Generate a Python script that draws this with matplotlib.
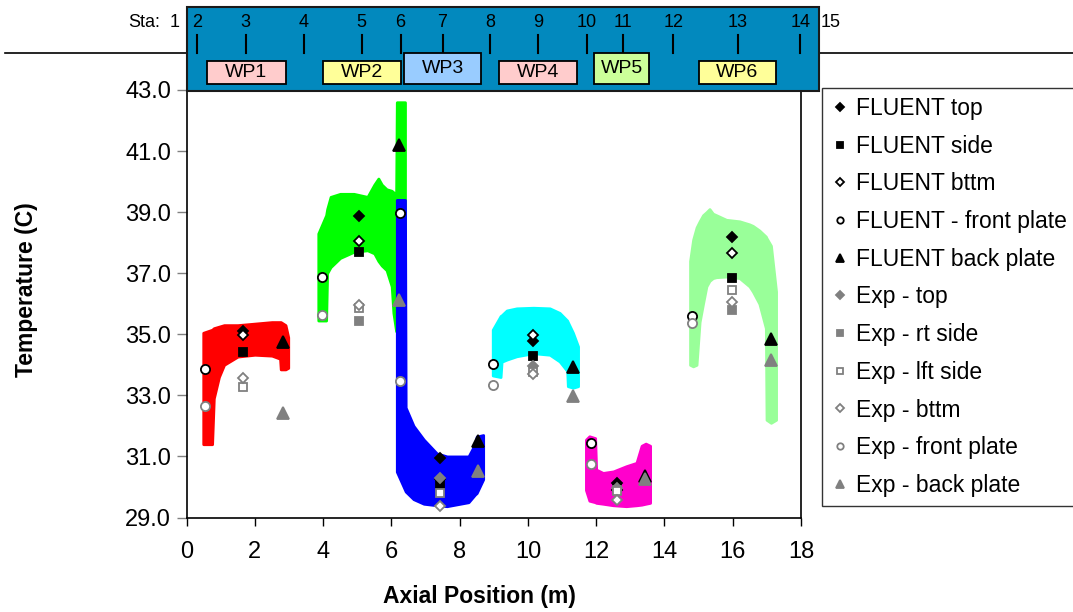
import numpy as np
import matplotlib
matplotlib.use("Agg")
import matplotlib.pyplot as plt
from matplotlib.patches import Rectangle
from matplotlib.lines import Line2D
from matplotlib import transforms

plt.rcParams["font.family"] = ["Liberation Sans", "DejaVu Sans"]

nan = np.nan

# FLUENT temperature envelopes per work package: axial position, lower / upper temp (C)
wp1_x  = [0.49, 0.75, 0.80, 0.95, 1.10, 1.50, 2.00, 2.50, 2.74, 2.76, 2.90, 2.98]
wp1_hi = [35.05, 35.15, 35.2, 35.25, 35.3, 35.3, 35.35, 35.4, 35.4, 35.4, 35.3, 34.9]
wp1_lo = [31.4, 31.4, 32.9, 33.6, 34.0, 34.27, 34.33, 34.3, 34.2, 33.85, 33.85, 33.9]

wp2_x  = [3.86, 4.09, 4.12, 4.22, 4.50, 4.90, 5.30, 5.50, 5.62, 5.72, 5.86, 6.01, 6.06, 6.14, 6.16, 6.40]
wp2_hi = [38.3, 38.9, 39.1, 39.5, 39.6, 39.6, 39.5, 39.9, 40.1, 39.9, 39.75, 39.7, 39.65, 39.6, 42.6, 42.6]
wp2_lo = [35.45, 35.45, 37.0, 37.2, 37.5, 37.7, 37.75, 37.65, 37.4, 37.25, 37.1, 36.57, 35.7, 35.1, 35.1, 35.9]

wp3_x  = [6.16, 6.40, 6.42, 6.65, 6.95, 7.33, 7.63, 8.26, 8.45, 8.50, 8.69]
wp3_hi = [39.4, 39.4, 32.6, 32.0, 31.55, 31.1, 31.0, 31.0, 31.4, 31.65, 31.7]
wp3_lo = [30.5, 29.9, 29.85, 29.6, 29.45, 29.4, 29.37, 29.5, 29.75, 29.8, 30.25]

wp4_x  = [8.97, 9.20, 9.23, 9.38, 9.67, 10.16, 10.64, 10.93, 11.15, 11.17, 11.32, 11.47]
wp4_hi = [35.15, 35.6, 35.62, 35.78, 35.85, 35.87, 35.85, 35.7, 35.45, 35.4, 35.05, 34.6]
wp4_lo = [33.65, 33.6, 34.1, 34.17, 34.28, 34.38, 34.33, 34.11, 33.8, 33.3, 33.25, 33.3]

wp5_x  = [11.70, 11.80, 11.97, 12.00, 12.20, 12.50, 12.88, 13.18, 13.33, 13.45, 13.58]
wp5_hi = [31.55, 31.66, 31.6, 30.57, 30.46, 30.51, 30.68, 30.79, 31.35, 31.42, 31.35]
wp5_lo = [29.9, 29.55, 29.5, 29.48, 29.45, 29.4, 29.37, 29.4, 29.42, 29.45, 29.48]

wp6_x  = [14.75, 14.84, 14.94, 15.03, 15.13, 15.23, 15.32, 15.42, 15.52, 15.81, 16.20,
          16.49, 16.59, 16.78, 16.97, 16.99, 17.12, 17.27]
wp6_hi = [37.4, 38.1, 38.5, 38.7, 38.9, 39.0, 39.1, 38.95, 38.9, 38.75, 38.7,
          38.6, 38.55, 38.4, 38.2, 38.15, 37.9, 36.4]
wp6_lo = [34.0, 33.95, 34.0, 35.4, 36.0, 36.57, 36.75, 36.84, 36.87, 36.89, 36.84,
          36.57, 36.4, 36.0, 35.2, 32.2, 32.1, 32.2]

region_colors = ["#FF0000", "#00FF00", "#0000FF", "#00FFFF", "#FF00CC", "#99FF99"]

# probe positions (one per work package)
mid_x   = [1.65, 5.06, 7.43, 10.16, 12.60, 15.99]
front_x = [0.54, 3.96, 6.25, 8.99, 11.84, 14.82]
back_x  = [2.82, 6.23, 8.55, 11.33, 13.43, 17.11]

fluent_top   = [35.12, 38.89, 30.95, 34.79, 30.13, 38.18]
fluent_side  = [34.42, 37.68, 30.08, 34.30, 29.92, 36.84]
fluent_bttm  = [34.99, 38.04, 30.25, 34.98, 29.90, 37.66]
fluent_front = [33.86, 36.87, 38.97, 34.04, 31.44, 35.60]
fluent_back  = [34.75, 41.20, 31.50, 33.93, 30.35, 34.84]
exp_top   = [nan, nan, 30.30, 33.97, 29.97, nan]
exp_rt    = [nan, 35.42, nan, nan, 29.90, 35.80]
exp_lft   = [33.27, 35.86, 29.81, 33.75, 29.86, 36.46]
exp_bttm  = [33.57, 35.97, 29.37, 33.70, 29.57, 36.06]
exp_front = [32.64, 35.64, 33.48, 33.33, 30.76, 35.37]
exp_back  = [32.42, 36.11, 30.51, 32.97, 30.25, 34.15]

# station / work-package banner
stations  = ["1", "2", "3", "4", "5", "6", "7", "8", "9", "10", "11", "12", "13", "14", "15"]
station_x = [-0.35, 0.30, 1.73, 3.44, 5.13, 6.27, 7.50, 8.90, 10.29, 11.72, 12.78, 14.26, 16.14, 17.98, 18.86]
wp_names  = ["WP1", "WP2", "WP3", "WP4", "WP5", "WP6"]
wp_start  = [0.59, 4.00, 6.36, 9.15, 11.95, 15.00]
wp_end    = [2.90, 6.28, 8.64, 11.43, 13.54, 17.28]
wp_colors = ["#FFCCCC", "#FFFF99", "#99CCFF", "#FFCCCC", "#CCFF99", "#FFFF99"]

W, H = 1073, 612
fig = plt.figure(figsize=(W / 100, H / 100), dpi=100)
ax = fig.add_axes([186.5 / W, 1 - 517.5 / H, 614.5 / W, 427.5 / H])

envelopes = [(wp1_x, wp1_lo, wp1_hi), (wp2_x, wp2_lo, wp2_hi), (wp3_x, wp3_lo, wp3_hi),
             (wp4_x, wp4_lo, wp4_hi), (wp5_x, wp5_lo, wp5_hi), (wp6_x, wp6_lo, wp6_hi)]
for (x, lo, hi), c in zip(envelopes, region_colors):
    ax.fill_between(x, lo, hi, facecolor=c, edgecolor=c, lw=2, joinstyle="round", zorder=1)

gray = "#808080"
series = [
    ("FLUENT top", mid_x, fluent_top, "D", 5.2, "black", "black"),
    ("FLUENT side", mid_x, fluent_side, "s", 5.8, "black", "black"),
    ("FLUENT bttm", mid_x, fluent_bttm, "D", 5.2, "white", "black"),
    ("FLUENT - front plate", front_x, fluent_front, "o", 6.6, "white", "black"),
    ("FLUENT back plate", back_x, fluent_back, "^", 8.0, "black", "black"),
    ("Exp - top", mid_x, exp_top, "D", 5.2, gray, gray),
    ("Exp - rt side", mid_x, exp_rt, "s", 5.8, gray, gray),
    ("Exp - lft side", mid_x, exp_lft, "s", 5.8, "white", gray),
    ("Exp - bttm", mid_x, exp_bttm, "D", 5.2, "white", gray),
    ("Exp - front plate", front_x, exp_front, "o", 6.6, "white", gray),
    ("Exp - back plate", back_x, exp_back, "^", 8.0, gray, gray),
]
handles = []
for label, x, y, m, ms, fc, ec in series:
    h, = ax.plot(x, y, ls="none", marker=m, ms=ms, mfc=fc, mec=ec, mew=1.3,
                 label=label, zorder=3, clip_on=False)
    handles.append(h)

ax.set_xlim(0, 18)
ax.set_ylim(29, 43)
ax.set_xticks(np.arange(0, 19, 2))
ax.set_yticks(np.arange(29, 44, 2))
ax.set_yticklabels([f"{v:.1f}" for v in np.arange(29, 44, 2)])
ax.tick_params(axis="x", direction="out", length=6, width=1, color="black", pad=11, labelsize=17)
ax.tick_params(axis="y", direction="out", length=7, width=1, color=gray, pad=4, labelsize=17)
for s in ax.spines.values():
    s.set_linewidth(1.2)
    s.set_color("black")

ax.set_xlabel("Axial Position (m)", fontsize=16.5, fontweight="bold")
ax.set_ylabel("Temperature (C)", fontsize=16.5, fontweight="bold")
ax.xaxis.set_label_coords(0.476, -0.158)
ax.yaxis.set_label_coords(-0.241, 0.533)

leg = ax.legend(handles=handles, loc="upper left", bbox_to_anchor=(822 / W, 1 - 88 / H),
                bbox_transform=fig.transFigure, frameon=True, fancybox=False, fontsize=16.5,
                markerscale=0.7, handlelength=0.8, handletextpad=0.3, borderpad=0.4,
                labelspacing=0.64, borderaxespad=0)
leg.get_frame().set_edgecolor("black")
leg.get_frame().set_linewidth(1.0)

# banner with stations and work packages (x in axial metres, y in figure fraction)
trans = transforms.blended_transform_factory(ax.transData, fig.transFigure)
fig.add_artist(Line2D([5 / W, 1], [1 - 52.7 / H] * 2, transform=fig.transFigure,
                      color="black", lw=1.2, zorder=4))
fig.add_artist(Rectangle((0.015, 1 - 91 / H), 18.53 - 0.015, 84 / H, transform=trans,
                         facecolor="#0289BE", edgecolor="#1a1a1a", lw=1.5, zorder=5))
fig.text(160 / W, 1 - 22.7 / H, "Sta:", ha="right", va="center", fontsize=13, zorder=6)
for i, (lab, sx) in enumerate(zip(stations, station_x)):
    fig.text(sx, 1 - 22.7 / H, lab, ha="center", va="center", fontsize=13,
             transform=trans, zorder=6)
    if 0 < i < len(stations) - 1:
        fig.add_artist(Line2D([sx, sx], [1 - 35 / H, 1 - 52.7 / H], transform=trans,
                              color="black", lw=1.5, zorder=6))
for i, (name, x0, x1, c) in enumerate(zip(wp_names, wp_start, wp_end, wp_colors)):
    tall = name in ("WP3", "WP5")
    top, bot = (52.7, 83.5) if tall else (60.7, 84.0)
    fig.add_artist(Rectangle((x0, 1 - bot / H), x1 - x0, (bot - top) / H, transform=trans,
                             facecolor=c, edgecolor="black", lw=1.3, zorder=7))
    fig.text((x0 + x1) / 2, 1 - (68.5 if tall else 72.5) / H, name, ha="center", va="center",
             fontsize=14, transform=trans, zorder=8)

fig.savefig("out.png", dpi=100)
